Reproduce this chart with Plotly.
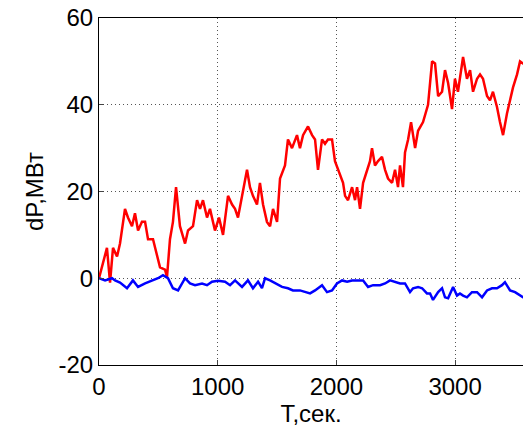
import plotly.graph_objects as go

# Red series (time in seconds, dP in MW)
red_t = [0, 67, 93, 118, 152, 177, 219, 244, 278, 303, 329, 362, 388, 413, 455, 489, 514, 556, 573, 598,
         623, 649, 682, 725, 750, 792, 826, 851, 876, 910, 935, 977, 1011, 1045, 1087, 1121, 1146, 1171,
         1205, 1247, 1272, 1297, 1331, 1356, 1382, 1415, 1441, 1466, 1500, 1525, 1567, 1592, 1626, 1668,
         1693, 1719, 1761, 1795, 1820, 1845, 1879, 1904, 1929, 1963, 1988, 2031, 2056, 2073, 2098, 2132,
         2157, 2174, 2199, 2225, 2258, 2283, 2300, 2325, 2351, 2384, 2410, 2435, 2469, 2494, 2519, 2536,
         2561, 2578, 2604, 2629, 2663, 2688, 2730, 2772, 2806, 2831, 2857, 2890, 2915, 2941, 2974, 2999,
         3024, 3067, 3100, 3126, 3151, 3185, 3210, 3235, 3269, 3294, 3319, 3353, 3378, 3404, 3437, 3463,
         3488, 3522, 3547, 3572, 3600]
red_dp = [0, 7, -1, 7, 5, 8, 16, 14, 12, 15, 11, 13, 13, 9, 9, 5, 2.5, 2, 0.3, 9,
          13, 21, 12, 8, 11, 12, 18, 16, 18, 14, 16, 11, 14, 10, 19, 17, 16, 14,
          19, 25, 21, 19, 17, 22, 17, 13, 12, 16, 13, 23, 26, 32, 30, 33,
          30, 33, 35, 33, 32, 25, 32, 31, 32, 32, 27, 24, 22, 19, 18, 21,
          18, 21, 16, 22, 25, 27, 30, 26, 27, 28, 25, 23, 22, 25, 21, 26,
          21, 29, 32, 36, 30, 34, 36, 40, 50, 49.5, 42, 43, 48, 45, 39, 46,
          43, 51, 46, 48, 43, 46, 47, 46, 42, 41, 43, 39.5, 36, 33, 38, 41,
          44, 47, 50, 49.5, 49]

# Blue series
blue_t = [0, 51, 110, 135, 177, 236, 286, 329, 388, 447, 497, 539, 581, 623, 666, 725, 767, 809, 868,
          910, 952, 1003, 1062, 1104, 1146, 1205, 1255, 1297, 1340, 1373, 1399, 1441, 1483, 1542, 1592,
          1634, 1693, 1736, 1778, 1820, 1879, 1921, 1963, 2005, 2048, 2090, 2132, 2182, 2225, 2267, 2309,
          2368, 2410, 2452, 2494, 2536, 2578, 2620, 2646, 2688, 2722, 2763, 2789, 2814, 2857, 2890, 2915,
          2941, 2983, 3016, 3041, 3067, 3100, 3142, 3185, 3227, 3269, 3311, 3353, 3395, 3420, 3463, 3505,
          3547, 3572, 3600]
blue_dp = [0, -0.5, 0, -0.5, -1, -2.3, -0.5, -2, -1.2, -0.5, 0, 0.7, 0, -2.3, -2.8, 0, -1.2, -1.6, -1.2,
           -1.6, -0.8, -0.6, -0.8, -1.6, -0.5, -2, -0.5, -2.3, -0.8, -2.3, 0, -0.5, -1.2, -2, -2.3,
           -2.8, -2.8, -3.2, -3.5, -2.8, -1.6, -3.2, -2.8, -1.2, -0.5, -0.8, -0.5, -0.5, -0.5, -2, -1.6,
           -1.6, -1.2, -0.5, -0.8, -1.2, -1.2, -3.2, -2.3, -2, -2.3, -3.5, -3.5, -5, -3.2, -2.3, -4.4,
           -4.6, -2, -4, -3.5, -4, -4.4, -3.2, -3.2, -4.4, -2.8, -2.3, -2.3, -1.6, -0.9, -2.8, -3.2,
           -4, -4.4, -4.4]

x_ticks = [0, 1000, 2000, 3000]
x_labels = ["0", "1000", "2000", "3000"]
y_ticks = [-20, 0, 20, 40, 60]
y_labels = ["-20", "0", "20", "40", "60"]

fig = go.Figure()
fig.add_trace(go.Scatter(x=red_t, y=red_dp, mode="lines",
                         line=dict(color="#ff0000", width=2.5), showlegend=False))
fig.add_trace(go.Scatter(x=blue_t, y=blue_dp, mode="lines",
                         line=dict(color="#0000ff", width=2.5), showlegend=False))

font = dict(family="Liberation Sans, Arial, sans-serif", size=24, color="#000000")
grid = dict(showgrid=True, gridcolor="#555555", griddash="1px,3px", gridwidth=1)
fig.update_layout(
    width=523, height=427,
    margin=dict(l=99, r=0, t=18, b=62),
    paper_bgcolor="white", plot_bgcolor="white",
    font=font,
    xaxis=dict(range=[0, 3572], tickvals=x_ticks, ticktext=x_labels, ticks="inside", ticklen=5,
               showline=True, linecolor="#000000", linewidth=1, mirror=True,
               zeroline=False, **grid,
               title=dict(text="T,сек.", standoff=2, font=font)),
    yaxis=dict(range=[-20, 60], tickvals=y_ticks, ticktext=y_labels, ticks="inside", ticklen=5,
               showline=True, linecolor="#000000", linewidth=1, mirror=True,
               zeroline=False, **grid,
               title=dict(text="dP,МВт", standoff=8, font=font)),
)

fig.write_html("out.html")
